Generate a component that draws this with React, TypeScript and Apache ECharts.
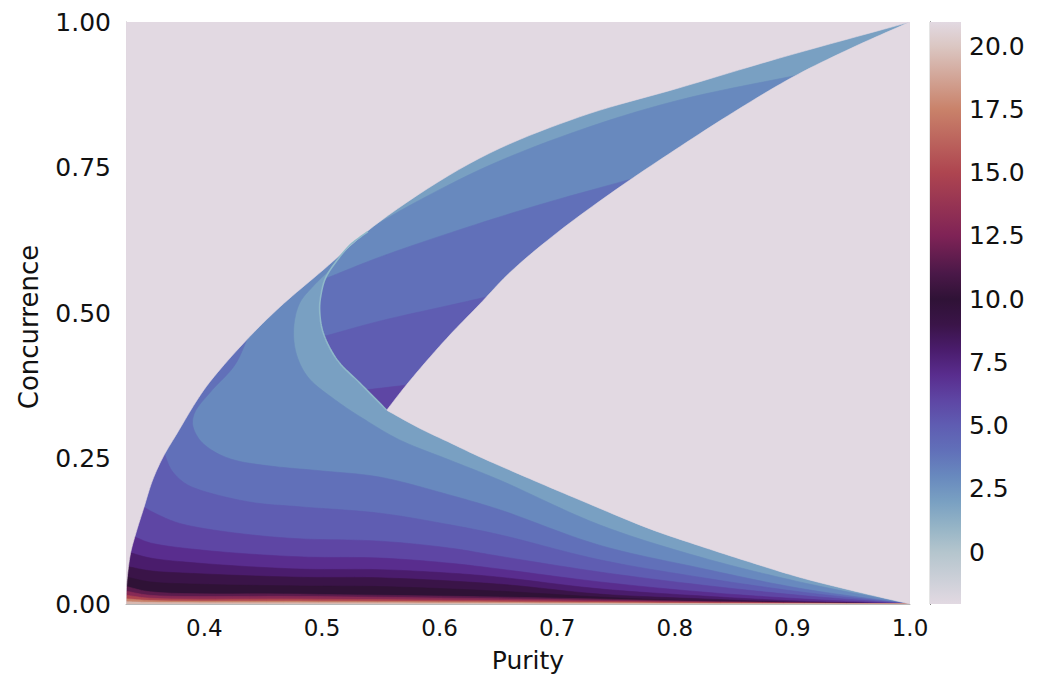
import React, { useEffect, useRef } from "react";
import * as echarts from "echarts";

// ---------- axes ----------
const purityRange = [1 / 3, 1];
const concurrenceRange = [0, 1];
const purityTicks = [0.4, 0.5, 0.6, 0.7, 0.8, 0.9, 1.0];
const concurrenceTicks = [0, 0.25, 0.5, 0.75, 1.0];
const colorRange = [-2.05, 20.95];
const colorbarTicks = [0, 2.5, 5, 7.5, 10, 12.5, 15, 17.5, 20];

// ---------- colour scale (value -> colour) ----------
const cmapValues = [-2.05, 0, 1, 2, 3, 4, 5, 6, 7, 8, 9, 10, 11, 12.5, 15, 17.5, 20, 20.95];
const cmapColors = [
  "#e2d9e2", "#b4c5cd", "#95b4c6", "#79a0c2", "#6889be", "#6170b9", "#5f5db2", "#5e46a4",
  "#592d8e", "#4a1c6c", "#3a1448", "#2f1236", "#4a1848", "#7f2356", "#ae4550", "#c9826a",
  "#dbc7c3", "#e2d9e2",
];

// ---------- region boundaries [purity, concurrence] ----------
const outerBoundary = [
  [0.3333, 0], [0.3338, 0.03], [0.3352, 0.06], [0.3375, 0.09], [0.343, 0.13], [0.348, 0.162],
  [0.356, 0.213], [0.365, 0.253], [0.377, 0.294], [0.394, 0.351], [0.406, 0.385], [0.436, 0.454],
  [0.464, 0.51], [0.501, 0.574], [0.549, 0.657], [0.634, 0.766], [0.719, 0.837], [0.804, 0.887],
  [0.889, 0.938], [1, 1],
];
const innerBoundary = [
  [0.555, 0.333], [0.57, 0.372], [0.59, 0.42], [0.61, 0.465], [0.634, 0.515], [0.66, 0.57],
  [0.7, 0.638], [0.75, 0.712], [0.8, 0.78], [0.85, 0.845], [0.9, 0.905], [0.95, 0.955], [1, 1],
];
const lowerBoundary = [
  [0.555, 0.333], [0.583, 0.302], [0.609, 0.277], [0.634, 0.253], [0.677, 0.215], [0.719, 0.179],
  [0.779, 0.129], [0.821, 0.1], [0.864, 0.072], [0.906, 0.046], [0.949, 0.024], [1, 0],
];
const seamUpper = [
  [0.539, 0.64], [0.524, 0.617], [0.513, 0.591], [0.503, 0.56], [0.499, 0.53], [0.498, 0.505],
  [0.501, 0.466], [0.513, 0.419], [0.532, 0.38], [0.555, 0.333],
];

// ---------- contour levels ----------
const baseLevel = 2;
const sheetALevels = [3, 4, 5, 6, 7, 8, 9, 10, 11.5, 13, 15, 17.5, 19.5];
const sheetALines = [
  [[0.537, 0.632], [0.513, 0.586], [0.492, 0.545], [0.481, 0.517], [0.476, 0.476], [0.478, 0.431],
   [0.488, 0.39], [0.511, 0.351], [0.537, 0.316], [0.566, 0.282], [0.609, 0.247], [0.651, 0.213],
   [0.736, 0.136], [0.821, 0.081], [0.906, 0.038], [1, 0]],
  [[0.437, 0.458], [0.426, 0.411], [0.405, 0.364], [0.392, 0.33], [0.39, 0.308], [0.396, 0.282],
   [0.409, 0.261], [0.426, 0.247], [0.456, 0.237], [0.498, 0.229], [0.549, 0.218], [0.609, 0.187],
   [0.651, 0.162], [0.736, 0.101], [0.821, 0.062], [0.906, 0.027], [1, 0]],
  [[0.366, 0.258], [0.372, 0.23], [0.383, 0.208], [0.396, 0.196], [0.439, 0.175], [0.481, 0.167],
   [0.549, 0.156], [0.609, 0.136], [0.651, 0.119], [0.736, 0.076], [0.821, 0.046], [0.906, 0.021], [1, 0]],
  [[0.348, 0.167], [0.356, 0.158], [0.375, 0.141], [0.396, 0.131], [0.439, 0.119], [0.481, 0.112],
   [0.549, 0.108], [0.609, 0.096], [0.651, 0.082], [0.736, 0.055], [0.821, 0.033], [0.906, 0.015], [1, 0]],
  [[0.341, 0.115], [0.354, 0.105], [0.396, 0.093], [0.481, 0.081], [0.549, 0.079], [0.609, 0.07],
   [0.651, 0.06], [0.736, 0.038], [0.821, 0.021], [0.906, 0.009], [1, 0]],
  [[0.3372, 0.088], [0.354, 0.079], [0.396, 0.07], [0.481, 0.06], [0.549, 0.059], [0.609, 0.053],
   [0.651, 0.046], [0.736, 0.026], [0.821, 0.014], [0.906, 0.005], [1, 0]],
  [[0.3354, 0.064], [0.354, 0.057], [0.396, 0.052], [0.481, 0.046], [0.549, 0.045], [0.651, 0.034],
   [0.736, 0.017], [0.821, 0.009], [0.906, 0.003], [1, 0]],
  [[0.3344, 0.046], [0.354, 0.038], [0.396, 0.034], [0.481, 0.031], [0.549, 0.03], [0.651, 0.022],
   [0.736, 0.012], [0.821, 0.005], [1, 0]],
  [[0.3338, 0.03], [0.354, 0.021], [0.481, 0.017], [0.651, 0.012], [0.821, 0.005], [1, 0]],
  [[0.3336, 0.022], [0.354, 0.015], [0.481, 0.013], [0.651, 0.009], [0.821, 0.004], [1, 0]],
  [[0.3335, 0.015], [0.354, 0.01], [0.481, 0.0085], [0.651, 0.006], [0.821, 0.003], [1, 0]],
  [[0.3334, 0.009], [0.354, 0.006], [0.481, 0.005], [0.651, 0.0035], [0.821, 0.0015], [1, 0]],
  [[0.3334, 0.004], [0.354, 0.0028], [0.481, 0.0023], [0.651, 0.0016], [0.821, 0.0007], [1, 0]],
];
const sheetBLevels = [3, 4, 5, 6];
const sheetBLines = [
  [[0.539, 0.64], [0.549, 0.655], [0.634, 0.746], [0.719, 0.814], [0.804, 0.866], [0.92, 0.915]],
  [[0.504, 0.56], [0.549, 0.596], [0.617, 0.643], [0.685, 0.686], [0.77, 0.734]],
  [[0.502, 0.46], [0.549, 0.486], [0.617, 0.517], [0.645, 0.53]],
  [[0.538, 0.368], [0.571, 0.376], [0.578, 0.378]],
];

function hexToRgb(h: string) {
  const n = parseInt(h.slice(1), 16);
  return [(n >> 16) & 255, (n >> 8) & 255, n & 255];
}
function cmap(v: number): string {
  if (v <= cmapValues[0]) return cmapColors[0];
  for (let i = 1; i < cmapValues.length; i++) {
    if (v <= cmapValues[i]) {
      const t = (v - cmapValues[i - 1]) / (cmapValues[i] - cmapValues[i - 1]);
      const a = hexToRgb(cmapColors[i - 1]);
      const b = hexToRgb(cmapColors[i]);
      const c = a.map((x, k) => Math.round(x + (b[k] - x) * t));
      return `rgb(${c[0]},${c[1]},${c[2]})`;
    }
  }
  return cmapColors[cmapColors.length - 1];
}

// centripetal Catmull-Rom smoothing of a pixel polyline (drawing only)
function smoothPx(pts: number[][], steps = 10): number[][] {
  if (pts.length < 3) return pts.map((p) => p.slice());
  const out: number[][] = [];
  const n = pts.length;
  for (let i = 0; i < n - 1; i++) {
    const p1 = pts[i];
    const p2 = pts[i + 1];
    const p0 = i > 0 ? pts[i - 1] : [2 * p1[0] - p2[0], 2 * p1[1] - p2[1]];
    const p3 = i + 2 < n ? pts[i + 2] : [2 * p2[0] - p1[0], 2 * p2[1] - p1[1]];
    const d = (a: number[], b: number[]) => Math.max(1e-6, Math.sqrt(Math.hypot(b[0] - a[0], b[1] - a[1])));
    const t0 = 0;
    const t1 = t0 + d(p0, p1);
    const t2 = t1 + d(p1, p2);
    const t3 = t2 + d(p2, p3);
    for (let s = 0; s < steps; s++) {
      const t = t1 + ((t2 - t1) * s) / steps;
      const lerp = (a: number[], b: number[], ta: number, tb: number) => [
        ((tb - t) / (tb - ta)) * a[0] + ((t - ta) / (tb - ta)) * b[0],
        ((tb - t) / (tb - ta)) * a[1] + ((t - ta) / (tb - ta)) * b[1],
      ];
      const A1 = lerp(p0, p1, t0, t1);
      const A2 = lerp(p1, p2, t1, t2);
      const A3 = lerp(p2, p3, t2, t3);
      const B1 = lerp(A1, A2, t0, t2);
      const B2 = lerp(A2, A3, t1, t3);
      out.push(lerp(B1, B2, t1, t2));
    }
  }
  out.push(pts[n - 1].slice());
  return out;
}

type Shape = { kind: "fill" | "line"; color: string; points: number[][] };

function buildShapes(coord: (p: number[]) => number[]): Shape[] {
  const xL = purityRange[0];
  const yT = concurrenceRange[1];
  const bg = cmap(colorRange[0]);
  const px = (arr: number[][]) => arr.map((p) => coord(p));
  const sm = (arr: number[][]) => smoothPx(px(arr));
  const seamPx = sm(seamUpper);
  const innerPx = sm(innerBoundary);
  const lowerPx = sm(lowerBoundary);
  const outerPx = sm(outerBoundary);
  const shapes: Shape[] = [];
  shapes.push({
    kind: "fill",
    color: cmap(baseLevel),
    points: [...seamPx, ...lowerPx.slice(1), coord([xL, 0]), coord([xL, seamUpper[0][1]])],
  });
  sheetALines.forEach((line, k) => {
    shapes.push({
      kind: "fill",
      color: cmap(sheetALevels[k]),
      points: [...sm(line), coord([xL, 0]), coord([xL, line[0][1]])],
    });
  });
  shapes.push({
    kind: "fill",
    color: cmap(baseLevel),
    points: [...seamPx, ...innerPx.slice(1), coord([seamUpper[0][0], yT])],
  });
  sheetBLines.forEach((line, k) => {
    const lp = sm(line);
    const s = lp[0];
    const e = lp[lp.length - 1];
    const innerDown = innerPx.filter((p) => p[1] > e[1]).reverse();
    const seamUp = seamPx.filter((p) => p[1] > s[1]).reverse();
    shapes.push({ kind: "fill", color: cmap(sheetBLevels[k]), points: [...lp, ...innerDown, ...seamUp] });
  });
  shapes.push({ kind: "fill", color: bg, points: [...innerPx, ...lowerPx.slice().reverse()] });
  shapes.push({ kind: "fill", color: bg, points: [...outerPx, coord([xL, yT])] });
  shapes.push({ kind: "line", color: "#8fb9ca", points: seamPx });
  return shapes;
}

const SHAPE_COUNT = 1 + sheetALines.length + 1 + sheetBLines.length + 3;
const FONT = "DejaVu Sans";

export default function App() {
  const ref = useRef<HTMLDivElement>(null);
  useEffect(() => {
    document.body.style.margin = "0";
    const chart = echarts.init(ref.current!, undefined, { renderer: "svg" });
    const bg = cmap(colorRange[0]);
    const stops = cmapValues.map((v, i) => ({
      offset: (v - colorRange[0]) / (colorRange[1] - colorRange[0]),
      color: cmapColors[i],
    }));
    let cache: Shape[] | null = null;
    chart.setOption({
      animation: false,
      backgroundColor: "#ffffff",
      grid: [
        { left: 126, right: 129, top: 22, bottom: 79, show: true, backgroundColor: bg, borderWidth: 0 },
        { left: 930, width: 31, top: 22, bottom: 79 },
      ],
      xAxis: [
        {
          type: "value",
          gridIndex: 0,
          min: purityRange[0],
          max: purityRange[1],
          name: "Purity",
          nameLocation: "middle",
          nameGap: 44,
          nameTextStyle: { fontFamily: FONT, fontSize: 25, color: "#111", padding: [0, 0, 0, 20] },
          axisLine: { show: true, lineStyle: { color: "#b8b8b8", width: 1 } },
          axisTick: { show: false },
          splitLine: { show: false },
          axisLabel: {
            customValues: purityTicks,
            formatter: (v: number) => v.toFixed(1),
            fontFamily: FONT,
            fontSize: 23,
            color: "#111",
            margin: 12,
          },
        },
        { type: "value", gridIndex: 1, min: 0, max: 1, show: false },
      ],
      yAxis: [
        {
          type: "value",
          gridIndex: 0,
          min: concurrenceRange[0],
          max: concurrenceRange[1],
          interval: 0.25,
          name: "Concurrence",
          nameLocation: "middle",
          nameGap: 84,
          nameTextStyle: { fontFamily: FONT, fontSize: 26, color: "#111", padding: [0, 28, 0, 0] },
          axisLine: { show: true, lineStyle: { color: "#b8b8b8", width: 1 } },
          axisTick: { show: false },
          splitLine: { show: false },
          axisLabel: {
            customValues: concurrenceTicks,
            formatter: (v: number) => v.toFixed(2),
            fontFamily: FONT,
            fontSize: 25,
            color: "#111",
            margin: 15,
          },
        },
        {
          type: "value",
          gridIndex: 1,
          position: "right",
          min: colorRange[0],
          max: colorRange[1],
          axisLine: { show: true, lineStyle: { color: "#000", width: 1.2 } },
          axisTick: { show: true, customValues: colorbarTicks, length: 6, lineStyle: { color: "#000", width: 1.2 } },
          splitLine: { show: false },
          axisLabel: {
            customValues: colorbarTicks,
            formatter: (v: number) => (v === 0 ? "0" : v.toFixed(1)),
            fontFamily: FONT,
            fontSize: 25,
            color: "#111",
            margin: 8,
          },
        },
      ],
      series: [
        {
          type: "custom",
          xAxisIndex: 0,
          yAxisIndex: 0,
          clip: true,
          silent: true,
          data: Array.from({ length: SHAPE_COUNT }, () => [0.5, 0.5]),
          renderItem: (params: any, api: any) => {
            if (params.dataIndex === 0 || !cache) cache = buildShapes((p) => api.coord(p));
            const s = cache[params.dataIndex];
            if (s.kind === "line") {
              return { type: "polyline", shape: { points: s.points }, style: { stroke: s.color, lineWidth: 1.6, fill: null } };
            }
            return { type: "polygon", shape: { points: s.points }, style: { fill: s.color, stroke: s.color, lineWidth: 0.6 } };
          },
        },
        {
          type: "custom",
          xAxisIndex: 1,
          yAxisIndex: 1,
          silent: true,
          data: [[0.5, 0]],
          renderItem: (params: any, api: any) => {
            const top = api.coord([0, colorRange[1]]);
            const bot = api.coord([1, colorRange[0]]);
            return {
              type: "rect",
              shape: { x: top[0], y: top[1], width: bot[0] - top[0], height: bot[1] - top[1] },
              style: { fill: new echarts.graphic.LinearGradient(0, 1, 0, 0, stops) },
            };
          },
        },
      ],
    });
    return () => chart.dispose();
  }, []);
  return <div ref={ref} style={{ width: 1039, height: 683 }} />;
}
